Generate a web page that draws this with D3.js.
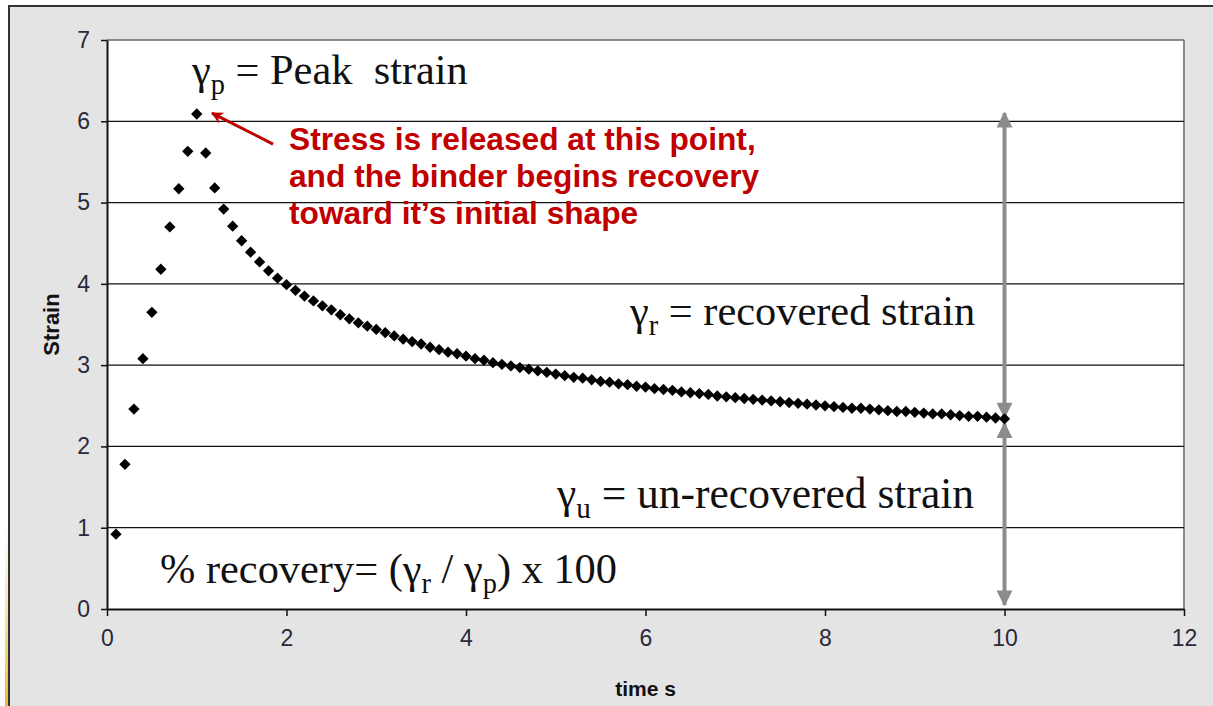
<!DOCTYPE html>
<html>
<head>
  <meta charset="utf-8">
  <script src="https://d3js.org/d3.v7.min.js"></script>
  <style>
    body { margin: 0; background: #fff; }
    svg { display: block; }
    .tick text { font-family: Arial, "Liberation Sans", sans-serif; font-size: 23px; fill: #2a2a3a; }
  </style>
</head>
<body>
<svg id="chart" width="1213" height="706"></svg>
<script>
  const times = [0.1, 0.2, 0.3, 0.4, 0.5, 0.6, 0.7, 0.8, 0.9, 1.0,
    1.1, 1.2, 1.3, 1.4, 1.5, 1.6, 1.7, 1.8, 1.9, 2.0,
    2.1, 2.2, 2.3, 2.4, 2.5, 2.6, 2.7, 2.8, 2.9, 3.0,
    3.1, 3.2, 3.3, 3.4, 3.5, 3.6, 3.7, 3.8, 3.9, 4.0,
    4.1, 4.2, 4.3, 4.4, 4.5, 4.6, 4.7, 4.8, 4.9, 5.0,
    5.1, 5.2, 5.3, 5.4, 5.5, 5.6, 5.7, 5.8, 5.9, 6.0,
    6.1, 6.2, 6.3, 6.4, 6.5, 6.6, 6.7, 6.8, 6.9, 7.0,
    7.1, 7.2, 7.3, 7.4, 7.5, 7.6, 7.7, 7.8, 7.9, 8.0,
    8.1, 8.2, 8.3, 8.4, 8.5, 8.6, 8.7, 8.8, 8.9, 9.0,
    9.1, 9.2, 9.3, 9.4, 9.5, 9.6, 9.7, 9.8, 9.9, 10.0];
  const strain = [0.92, 1.78, 2.46, 3.08, 3.65, 4.18, 4.70, 5.17, 5.63, 6.09,
    5.61, 5.18, 4.92, 4.71, 4.53, 4.39, 4.27, 4.16, 4.07, 3.99,
    3.92, 3.85, 3.79, 3.73, 3.68, 3.62, 3.57, 3.52, 3.48, 3.44,
    3.40, 3.36, 3.32, 3.29, 3.26, 3.22, 3.19, 3.16, 3.14, 3.11,
    3.08, 3.06, 3.03, 3.01, 2.99, 2.97, 2.95, 2.93, 2.91, 2.89,
    2.87, 2.85, 2.84, 2.82, 2.80, 2.79, 2.77, 2.76, 2.74, 2.73,
    2.71, 2.70, 2.69, 2.67, 2.66, 2.65, 2.64, 2.62, 2.61, 2.60,
    2.59, 2.58, 2.57, 2.56, 2.55, 2.54, 2.53, 2.52, 2.51, 2.50,
    2.49, 2.48, 2.47, 2.47, 2.46, 2.45, 2.44, 2.43, 2.43, 2.42,
    2.41, 2.40, 2.40, 2.39, 2.38, 2.37, 2.37, 2.36, 2.35, 2.34];
  const xTicks = [0, 2, 4, 6, 8, 10, 12];
  const yTicks = [0, 1, 2, 3, 4, 5, 6, 7];
  const redNote = ['Stress is released at this point,', 'and the binder begins recovery', 'toward it\u2019s initial shape'];

  const svg = d3.select('#chart');
  const W = 1213, H = 706;

  // outer frame
  svg.append('rect').attr('x', 9).attr('y', 6).attr('width', W - 9).attr('height', H - 6).attr('fill', '#e4e4e4');
  svg.append('path').attr('d', `M9,${H} V6 H${W}`).attr('fill', 'none').attr('stroke', '#333').attr('stroke-width', 2);
  const defs = svg.append('defs');
  const grad = defs.append('linearGradient').attr('id', 'edge').attr('x1', 0).attr('y1', 0).attr('x2', 0).attr('y2', 1);
  grad.append('stop').attr('offset', '0%').attr('stop-color', '#f7d070').attr('stop-opacity', 0);
  grad.append('stop').attr('offset', '100%').attr('stop-color', '#f2b630').attr('stop-opacity', 1);
  svg.append('rect').attr('x', 5).attr('y', 520).attr('width', 3).attr('height', H - 520).attr('fill', 'url(#edge)');

  const x = d3.scaleLinear().domain([0, 12]).range([107, 1184]);
  const y = d3.scaleLinear().domain([0, 7]).range([609, 40]);

  // plot area
  svg.append('rect').attr('x', x(0)).attr('y', y(7)).attr('width', x(12) - x(0)).attr('height', y(0) - y(7)).attr('fill', '#fff');
  svg.append('line').attr('x1', x(12)).attr('x2', x(12)).attr('y1', y(7)).attr('y2', y(0)).attr('stroke', '#8a8a8a').attr('stroke-width', 2);

  svg.append('g').selectAll('line').data(yTicks.filter(v => v > 0)).join('line')
    .attr('x1', x(0)).attr('x2', x(12)).attr('y1', d => y(d)).attr('y2', d => y(d))
    .attr('stroke', d => d === 7 ? '#666' : '#111').attr('stroke-width', 1.3);

  const yAxis = svg.append('g').attr('transform', `translate(${x(0)},0)`)
    .call(d3.axisLeft(y).tickValues(yTicks).tickSize(6).tickSizeOuter(0).tickPadding(11).tickFormat(d3.format('d')));
  const xAxis = svg.append('g').attr('transform', `translate(0,${y(0)})`)
    .call(d3.axisBottom(x).tickValues(xTicks).tickSize(7).tickSizeOuter(0).tickPadding(14).tickFormat(d3.format('d')));
  [yAxis, xAxis].forEach(a => {
    a.select('.domain').attr('stroke', '#111').attr('stroke-width', 2);
    a.selectAll('.tick line').attr('stroke', '#111').attr('stroke-width', 1.5);
  });

  const sans = 'Arial, "Liberation Sans", sans-serif';
  svg.append('text').attr('x', (x(0) + x(12)) / 2).attr('y', 696).attr('text-anchor', 'middle')
    .attr('font-family', sans).attr('font-weight', 'bold').attr('font-size', 21)
    .attr('fill', '#111').text('time s');
  svg.append('text').attr('transform', `translate(59,${(y(0) + y(7)) / 2}) rotate(-90)`).attr('text-anchor', 'middle')
    .attr('font-family', sans).attr('font-weight', 'bold').attr('font-size', 22)
    .attr('fill', '#111').text('Strain');

  // grey double arrows at t = 10
  const gray = '#8c8c8c';
  defs.append('marker').attr('id', 'ga').attr('viewBox', '0 0 10 10').attr('refX', 9).attr('refY', 5)
    .attr('markerWidth', 4.2).attr('markerHeight', 4).attr('orient', 'auto-start-reverse')
    .append('path').attr('d', 'M0,0 L10,5 L0,10 z').attr('fill', gray);
  const tEnd = times[times.length - 1], sEnd = strain[strain.length - 1];
  [[6.1, sEnd + 0.02], [sEnd - 0.06, 0.05]].forEach(([a, b]) => {
    svg.append('line').attr('x1', x(tEnd)).attr('x2', x(tEnd)).attr('y1', y(a)).attr('y2', y(b))
      .attr('stroke', gray).attr('stroke-width', 4)
      .attr('marker-start', 'url(#ga)').attr('marker-end', 'url(#ga)');
  });

  // data points (diamonds)
  const pts = times.map((t, i) => ({ t, s: strain[i] }));
  svg.append('g').selectAll('path').data(pts).join('path')
    .attr('transform', d => `translate(${x(d.t)},${y(d.s)}) rotate(45)`)
    .attr('d', d3.symbol(d3.symbolSquare, 64))
    .attr('fill', '#000');

  // red note and arrow
  defs.append('marker').attr('id', 'ra').attr('viewBox', '0 0 10 10').attr('refX', 9).attr('refY', 5)
    .attr('markerWidth', 4).attr('markerHeight', 4).attr('orient', 'auto')
    .append('path').attr('d', 'M0,0 L10,5 L0,10 L3,5 z').attr('fill', '#c00000');
  svg.append('line').attr('x1', x(1.85)).attr('y1', y(5.72)).attr('x2', x(1.17)).attr('y2', y(6.1))
    .attr('stroke', '#c00000').attr('stroke-width', 3).attr('marker-end', 'url(#ra)');
  svg.append('text').attr('font-family', sans).attr('font-weight', 'bold')
    .attr('font-size', 31.7).attr('fill', '#c00000')
    .selectAll('tspan').data(redNote).join('tspan')
    .attr('x', 289).attr('y', (d, i) => 150 + i * 37).text(d => d);

  // serif formula labels
  const serif = 'Times New Roman, "Liberation Serif", serif';
  function label(px, py, size, parts) {
    const t = svg.append('text').attr('x', px).attr('y', py).attr('font-family', serif)
      .attr('font-size', size).attr('fill', '#111').style('white-space', 'pre');
    parts.forEach(p => {
      const ts = t.append('tspan').text(p[0]);
      if (p[1] === 'sub') ts.attr('font-size', size * 0.67).attr('dy', 10);
      if (p[1] === 'up') ts.attr('dy', -10);
    });
  }
  label(192, 84, 42.4, [['\u03b3'], ['p', 'sub'], [' = Peak  strain', 'up']]);
  label(630, 325, 42.4, [['\u03b3'], ['r', 'sub'], [' = recovered strain', 'up']]);
  label(557, 508, 43.5, [['\u03b3'], ['u', 'sub'], [' = un-recovered strain', 'up']]);
  label(160, 583, 42.4, [['% recovery= (\u03b3'], ['r', 'sub'], [' / \u03b3', 'up'], ['p', 'sub'], [') x 100', 'up']]);
</script>
</body>
</html>
